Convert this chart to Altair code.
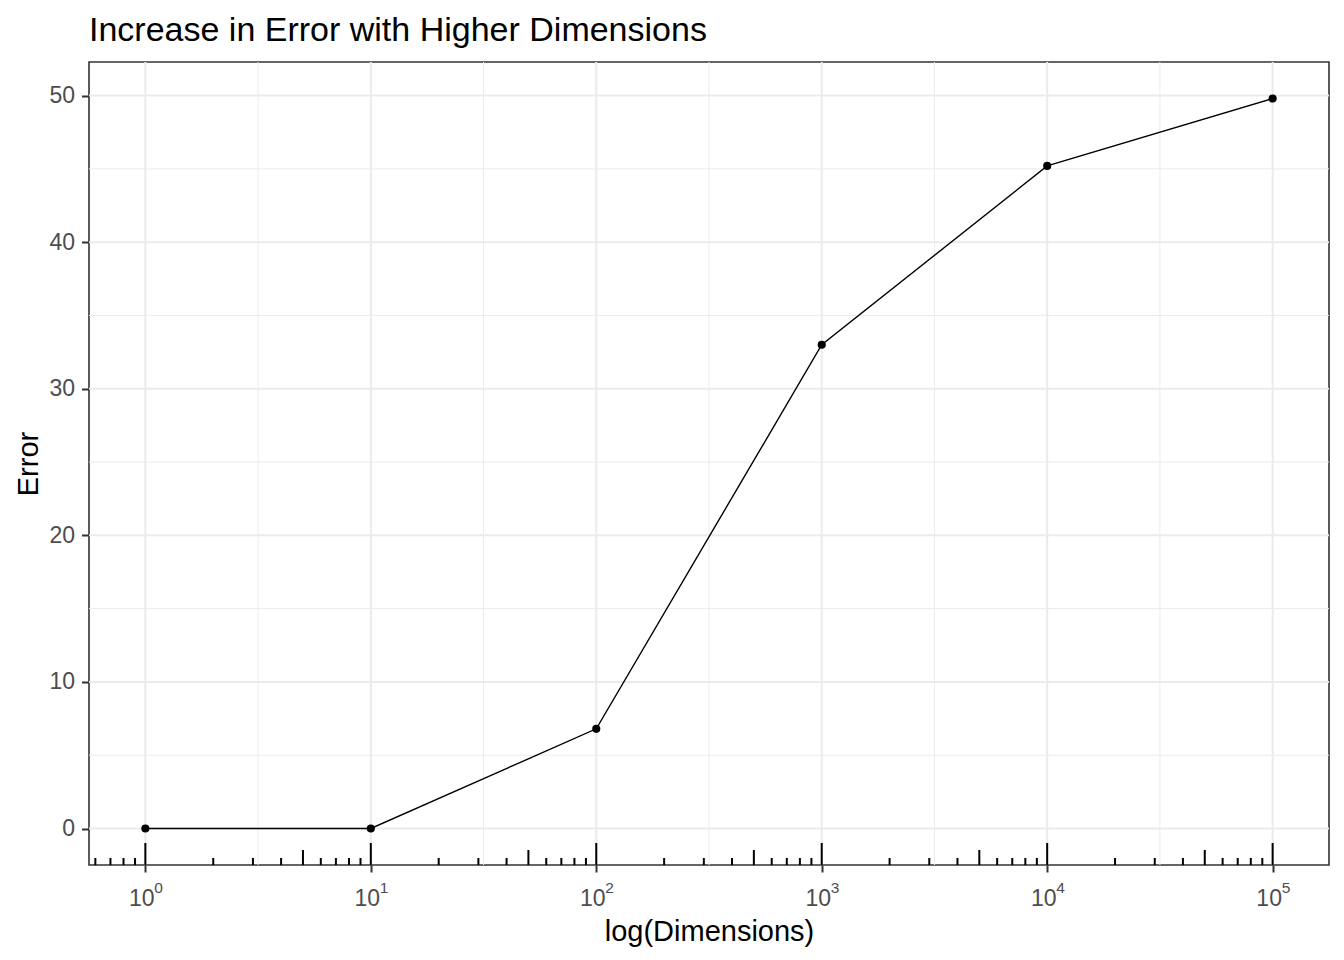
import altair as alt
import pandas as pd

# ---- data ----
dims = [1, 10, 100, 1000, 10000, 100000]
error = [0.0, 0.0, 6.8, 33.0, 45.2, 49.8]

decades = [1, 10, 100, 1000, 10000, 100000]
exponents = ["0", "1", "2", "3", "4", "5"]
x_minor_grid = [10 ** 0.5, 10 ** 1.5, 10 ** 2.5, 10 ** 3.5, 10 ** 4.5]
y_major = [0, 10, 20, 30, 40, 50]
y_minor = [5, 15, 25, 35, 45]

# annotation_logticks positions (bottom): long at decades, mid at 5x, short at 2-4,6-9 x
tick_bases = [0.1, 1, 10, 100, 1000, 10000]
short_mult = [2, 3, 4, 6, 7, 8, 9]
mid_mult = [5]

X_DOMAIN = [10 ** -0.25, 10 ** 5.25]
Y_DOMAIN = [-2.49, 52.29]

W, H = 1240, 803
FONT = "Liberation Sans"


def in_dom(v):
    return X_DOMAIN[0] <= v <= X_DOMAIN[1]


short_ticks = [b * m for b in tick_bases for m in short_mult if in_dom(b * m)]
mid_ticks = [b * m for b in tick_bases for m in mid_mult if in_dom(b * m)]
long_ticks = [d for d in decades if in_dom(d)]

df = pd.DataFrame({"dims": dims, "error": error})
lab_df = pd.DataFrame({"dims": decades, "exp": exponents})

xs = alt.Scale(type="log", domain=X_DOMAIN, nice=False, zero=False)
ys = alt.Scale(domain=Y_DOMAIN, nice=False, zero=False)

x_axis = alt.Axis(
    values=decades,
    labelExpr="'10'",
    labelOffset=-4,
    labelFlush=False,
    labelOverlap=False,
    grid=False,
    domain=False,
    tickSize=7,
    tickWidth=2,
    tickColor="#333333",
    labelFont=FONT,
    labelFontSize=23,
    labelColor="#4D4D4D",
    labelPadding=15,
    titleFont=FONT,
    titleFontSize=29,
    titleFontWeight="normal",
    titleColor="black",
    titlePadding=7,
)
y_axis = alt.Axis(
    values=y_major,
    grid=False,
    domain=False,
    tickSize=7.5,
    tickWidth=2,
    tickColor="#333333",
    labelFont=FONT,
    labelFontSize=23,
    labelColor="#4D4D4D",
    labelPadding=7,
    titleFont=FONT,
    titleFontSize=29,
    titleFontWeight="normal",
    titleColor="black",
    titlePadding=5,
)

# first (invisible) layer carries the axes so its explicit settings win
axes_layer = alt.Chart(df).mark_point(opacity=0).encode(
    x=alt.X("dims:Q", scale=xs, title="log(Dimensions)", axis=x_axis),
    y=alt.Y("error:Q", scale=ys, title="Error", axis=y_axis),
)


def vrules(vals, width, color):
    return alt.Chart(pd.DataFrame({"dims": vals})).mark_rule(
        color=color, strokeWidth=width
    ).encode(x=alt.X("dims:Q", scale=xs))


def hrules(vals, width, color):
    return alt.Chart(pd.DataFrame({"error": vals})).mark_rule(
        color=color, strokeWidth=width
    ).encode(y=alt.Y("error:Q", scale=ys))


def logticks(vals, length):
    return alt.Chart(pd.DataFrame({"dims": vals})).mark_rule(
        color="black", strokeWidth=2
    ).encode(
        x=alt.X("dims:Q", scale=xs),
        y=alt.value(H),
        y2=alt.value(H - length),
    )


grid_color = "#EBEBEB"
minor_x = vrules(x_minor_grid, 1, grid_color)
minor_y = hrules(y_minor, 1, grid_color)
major_x = vrules(decades, 2, grid_color)
major_y = hrules(y_major, 2, grid_color)

lt_short = logticks(short_ticks, 7)
lt_mid = logticks(mid_ticks, 15)
lt_long = logticks(long_ticks, 22)

line = alt.Chart(df).mark_line(color="black", strokeWidth=1.4).encode(
    x=alt.X("dims:Q", scale=xs),
    y=alt.Y("error:Q", scale=ys),
)

points = alt.Chart(df).mark_circle(color="black", size=66, opacity=1).encode(
    x=alt.X("dims:Q", scale=xs),
    y=alt.Y("error:Q", scale=ys),
)

exp_text = alt.Chart(lab_df).mark_text(
    align="left", baseline="alphabetic", fontSize=15.5, font=FONT, color="#4D4D4D", dx=9
).encode(
    x=alt.X("dims:Q", scale=xs),
    y=alt.value(H + 28),
    text="exp:N",
)

chart = alt.layer(
    axes_layer, minor_x, minor_y, major_x, major_y, lt_short, lt_mid, lt_long, line, points, exp_text
).properties(
    width=W,
    height=H,
    title=alt.TitleParams(
        text="Increase in Error with Higher Dimensions",
        anchor="start",
        frame="group",
        font=FONT,
        fontSize=34,
        fontWeight="normal",
        color="black",
        offset=13,
    ),
    autosize=alt.AutoSizeParams(type="none"),
    padding={"left": 81, "top": 54, "right": 7, "bottom": 87},
).configure(
    font=FONT, background="white"
).configure_view(
    stroke="#333333", strokeWidth=1.6, fill="white"
)

chart.save("out.html", embed_options={"renderer": "svg", "actions": False})
